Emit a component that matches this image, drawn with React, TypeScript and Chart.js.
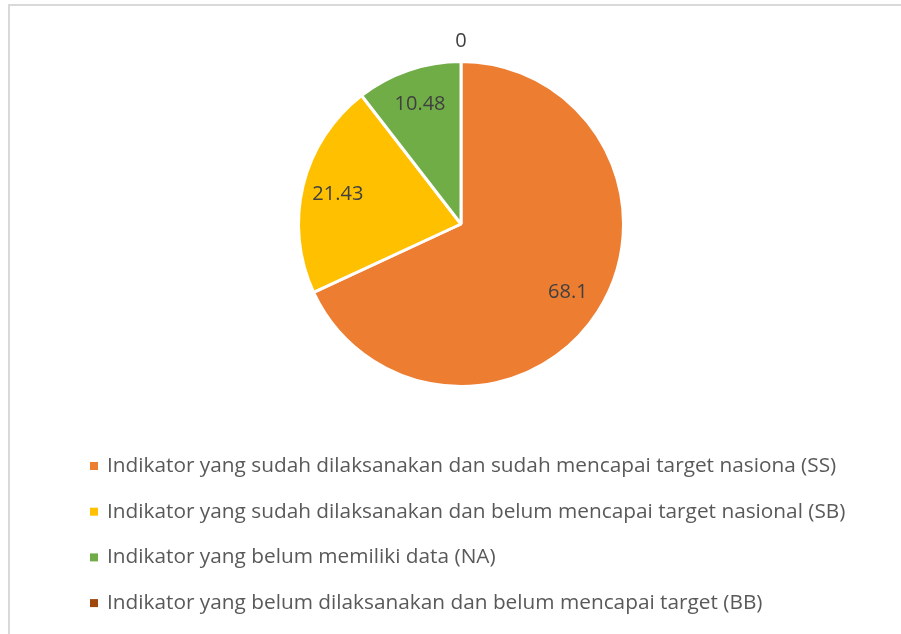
import React, { useEffect, useRef } from "react";
import { Chart, registerables } from "chart.js";

Chart.register(...registerables);

const categories: string[] = [
  "Indikator yang sudah dilaksanakan dan sudah mencapai target nasiona (SS)",
  "Indikator yang sudah dilaksanakan dan belum mencapai target nasional (SB)",
  "Indikator yang belum memiliki data (NA)",
  "Indikator yang belum dilaksanakan dan belum mencapai target (BB)",
];
const values: number[] = [68.1, 21.43, 10.48, 0];
const valueLabels: string[] = ["68.1", "21.43", "10.48", "0"];
const colors: string[] = ["#ED7D31", "#FFC000", "#70AD47", "#9E480E"];

const FONT = "'Open Sans', 'Noto Sans', sans-serif";

const labelPlugin = {
  id: "valueLabels",
  afterDatasetsDraw(chart: any) {
    const ctx = chart.ctx;
    const meta = chart.getDatasetMeta(0);
    ctx.save();
    ctx.font = `20px ${FONT}`;
    ctx.fillStyle = "#404040";
    ctx.textAlign = "center";
    ctx.textBaseline = "middle";
    meta.data.forEach((arc: any, i: number) => {
      const p = arc.getProps(["x", "y", "startAngle", "endAngle", "outerRadius"], true);
      const mid = (p.startAngle + p.endAngle) / 2;
      const r = values[i] === 0 ? p.outerRadius + 20 : p.outerRadius * 0.78;
      ctx.fillText(valueLabels[i], p.x + Math.cos(mid) * r, p.y + Math.sin(mid) * r);
    });
    ctx.restore();
  },
};

const legendPlugin = {
  id: "sideLegend",
  afterDraw(chart: any) {
    const ctx = chart.ctx;
    const x0 = 80;
    const y0 = 460;
    const gap = 45.7;
    ctx.save();
    ctx.font = `20.8px ${FONT}`;
    ctx.textBaseline = "middle";
    ctx.textAlign = "left";
    chart.data.labels.forEach((lab: string, i: number) => {
      const y = y0 + i * gap;
      ctx.fillStyle = colors[i];
      ctx.fillRect(x0, y - 4, 8, 8);
      ctx.fillStyle = "#595959";
      ctx.fillText(lab, x0 + 17, y);
    });
    ctx.restore();
  },
};

export default function App() {
  const ref = useRef<HTMLCanvasElement>(null);
  useEffect(() => {
    if (!ref.current) return;
    const chart = new Chart(ref.current, {
      type: "pie",
      data: {
        labels: categories,
        datasets: [
          {
            data: values,
            backgroundColor: colors,
            borderColor: "#ffffff",
            borderWidth: 3,
          },
        ],
      },
      options: {
        animation: false,
        responsive: false,
        layout: { padding: { left: 287, right: 276, top: 54, bottom: 246 } },
        plugins: {
          legend: { display: false },
          tooltip: { enabled: false },
        },
      },
      plugins: [labelPlugin, legendPlugin],
    });
    return () => chart.destroy();
  }, []);
  return (
    <>
      <style>{`html,body{margin:0;padding:0;overflow:hidden;}`}</style>
      <div
        style={{
          marginLeft: 8,
          marginTop: 4,
          borderLeft: "2px solid #d9d9d9",
          borderTop: "2px solid #d9d9d9",
          width: 891,
          height: 628,
          background: "#fff",
        }}
      >
        <canvas ref={ref} width={891} height={628} style={{ display: "block" }} />
      </div>
    </>
  );
}
